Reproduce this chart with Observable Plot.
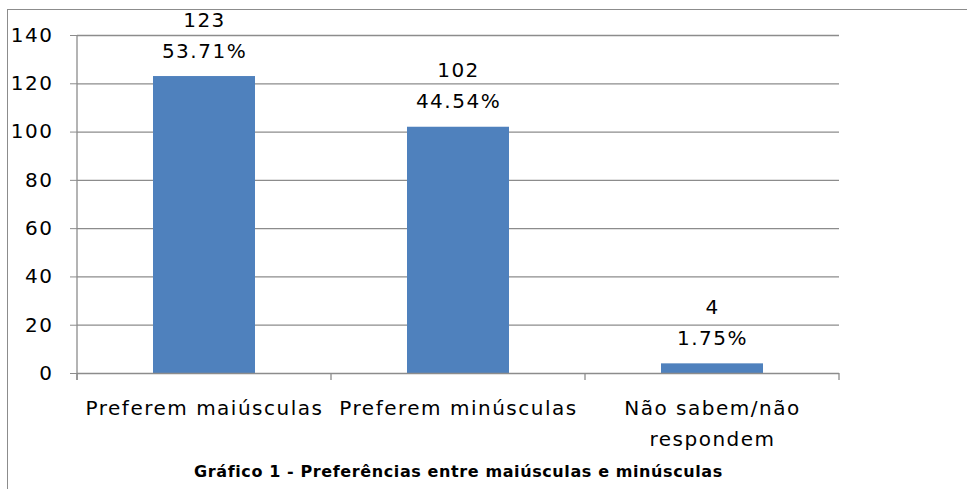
<!DOCTYPE html>
<html><head><meta charset="utf-8">
<script src="https://cdn.jsdelivr.net/npm/d3@7"></script>
<script src="https://cdn.jsdelivr.net/npm/@observablehq/plot@0.6"></script>
<style>
body{margin:0;background:#fff;}
#wrap{position:relative;width:967px;height:489px;overflow:hidden;}
#border{position:absolute;left:7px;top:9px;right:-2px;bottom:-2px;border-left:1px solid #8c8c8c;border-top:1px solid #8c8c8c;}
#chart{position:absolute;left:0;top:0;}
#chart svg text{letter-spacing:1.5px;}
#chart svg .caption text{letter-spacing:0.6px;}
</style></head>
<body><div id="wrap"><div id="border"></div><div id="chart"></div></div>
<script>
const categories = ["Preferem maiúsculas", "Preferem minúsculas", "Não sabem/não\nrespondem"];
const counts = [123, 102, 4];
const percents = ["53.71%", "44.54%", "1.75%"];
const yTicks = [0, 20, 40, 60, 80, 100, 120, 140];
const caption = "Gráfico 1 - Preferências entre maiúsculas e minúsculas";

const data = categories.map((c, i) => ({cat: c, n: counts[i], label: counts[i] + "\n" + percents[i]}));
const font = "'DejaVu Sans', sans-serif";

const plot = Plot.plot({
  width: 967, height: 489,
  marginLeft: 77, marginRight: 128, marginTop: 35, marginBottom: 116,
  style: {fontFamily: font, fontSize: "20px", color: "#000", background: "transparent"},
  x: {domain: categories, paddingInner: 0.6, paddingOuter: 0.3, label: null},
  y: {domain: [0, 140], ticks: yTicks, label: null},
  marks: [
    Plot.ruleY(yTicks.filter(d => d > 0), {stroke: "#8c8c8c", strokeOpacity: 1, strokeWidth: 1.3}),
    Plot.axisY({ticks: yTicks, tickSize: 7, tickPadding: 17, stroke: "#8c8c8c", strokeOpacity: 1, fontSize: 20, fill: "#000", label: null}),
    Plot.axisX({tickSize: 0, tickPadding: 19, fontSize: 20, fill: "#000", lineHeight: 1.55, label: null}),
    Plot.barY(data, {x: "cat", y: "n", fill: "#4F81BD"}),
    Plot.ruleY([0], {stroke: "#8c8c8c", strokeWidth: 1.3}),
    Plot.text(data, {x: "cat", y: "n", text: "label", lineAnchor: "bottom", dy: -19, lineHeight: 1.55, fontSize: 20, fill: "#000"}),
    Plot.text([caption], {frameAnchor: "bottom", dy: 103, fontWeight: "bold", fontSize: 16, fill: "#000", className: "caption"})
  ]
});

// y-axis line and x-axis category boundary ticks, from the band scale
const xs = plot.scale("x");
const ys = plot.scale("y");
const step = xs.step;
const bounds = categories.map(c => xs.apply(c) - (step - xs.bandwidth) / 2);
bounds.push(bounds[bounds.length - 1] + step);
const svg = d3.select(plot);
const g = svg.append("g").attr("stroke", "#8c8c8c").attr("stroke-width", 1.3);
g.append("line").attr("x1", bounds[0]).attr("x2", bounds[0]).attr("y1", ys.apply(140)).attr("y2", ys.apply(0) + 7);
bounds.forEach(b => g.append("line").attr("x1", b).attr("x2", b).attr("y1", ys.apply(0)).attr("y2", ys.apply(0) + 7));
document.getElementById("chart").appendChild(plot);
</script></body></html>
